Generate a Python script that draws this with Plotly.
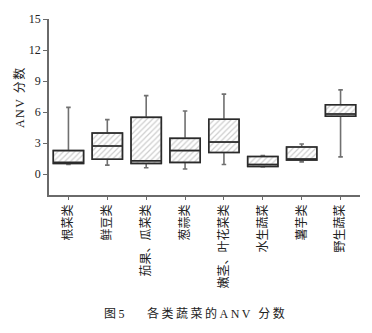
import numpy as np
import plotly.graph_objects as go

# ANV score distribution by vegetable category
categories = ['根菜类', '鲜豆类', '茄果、瓜菜类', '葱蒜类',
              '嫩茎、叶花菜类', '水生蔬菜', '薯芋类', '野生蔬菜']
v_min = [0.95, 0.89, 0.63, 0.51, 0.95, 0.70, 1.20, 1.68]
v_q1 = [1.05, 1.46, 1.05, 1.15, 2.10, 0.76, 1.37, 5.60]
v_median = [1.10, 2.73, 1.30, 2.29, 3.11, 0.95, 1.43, 5.83]
v_q3 = [2.29, 3.98, 5.50, 3.47, 5.31, 1.72, 2.64, 6.72]
v_max = [6.46, 5.28, 7.60, 6.11, 7.74, 1.81, 2.92, 8.15]
y_ticks = [0, 3, 6, 9, 12, 15]

BOX_W = 0.78
CJK = 'Noto Sans CJK SC'
SERIF = 'Liberation Serif, Noto Sans CJK SC'

fig = go.Figure()

# hatched fill of the interquartile box
fig.add_trace(go.Bar(
    x=categories,
    base=v_q1,
    y=np.array(v_q3) - np.array(v_q1),
    width=BOX_W,
    marker=dict(color='white',
                line=dict(width=0),
                pattern=dict(shape='/', fgcolor='#9c9c9c', bgcolor='white',
                             size=4, solidity=0.3)),
    hoverinfo='skip', showlegend=False,
))

# grey whiskers with short caps
fig.add_trace(go.Box(
    x=categories, q1=v_q1, median=v_median, q3=v_q3,
    lowerfence=v_min, upperfence=v_max,
    width=BOX_W, whiskerwidth=0.15,
    fillcolor='rgba(0,0,0,0)',
    line=dict(color='#707070', width=1.6),
    boxpoints=False, hoverinfo='skip', showlegend=False,
))

# dark box outline and median line
fig.add_trace(go.Box(
    x=categories, q1=v_q1, median=v_median, q3=v_q3,
    lowerfence=v_q1, upperfence=v_q3,
    width=BOX_W, whiskerwidth=0,
    fillcolor='rgba(0,0,0,0)',
    line=dict(color='#2a2a2a', width=1.5),
    boxpoints=False, hoverinfo='skip', showlegend=False,
))

fig.update_layout(
    width=372, height=333,
    margin=dict(l=49, r=12, t=17, b=138),
    paper_bgcolor='white', plot_bgcolor='white',
    boxmode='overlay', barmode='overlay',
    showlegend=False,
    font=dict(family=SERIF, size=11, color='#222'),
)

fig.update_xaxes(
    type='category', range=[-0.5, 7.5],
    showline=True, linecolor='#6a6a6a', linewidth=1.5,
    ticks='outside', ticklen=3, tickwidth=1, tickcolor='#6a6a6a',
    tickangle=-90, tickfont=dict(family=CJK, size=12, color='#222'),
    showgrid=False, zeroline=False,
)

fig.update_yaxes(
    range=[-2, 15], tickvals=y_ticks,
    showline=True, linecolor='#6a6a6a', linewidth=1.5,
    ticks='outside', ticklen=4, tickwidth=1, tickcolor='#6a6a6a',
    tickfont=dict(family=SERIF, size=12, color='#222'),
    showgrid=False, zeroline=False,
)

# y-axis title
fig.add_annotation(
    text='<span style="letter-spacing:1.5px">ANV 分数</span>',
    xref='paper', yref='paper', x=-0.093, y=0.557,
    xanchor='center', yanchor='middle', textangle=-90, showarrow=False,
    font=dict(family=SERIF, size=12, color='#222'),
)

# figure caption
fig.add_annotation(
    text='<span style="letter-spacing:2.5px">图5　 各类蔬菜的ANV 分数</span>',
    xref='paper', yref='paper', x=0.472, y=-0.673,
    xanchor='center', yanchor='middle', showarrow=False,
    font=dict(family=SERIF, size=12, color='#222'),
)

fig.write_html('out.html')
